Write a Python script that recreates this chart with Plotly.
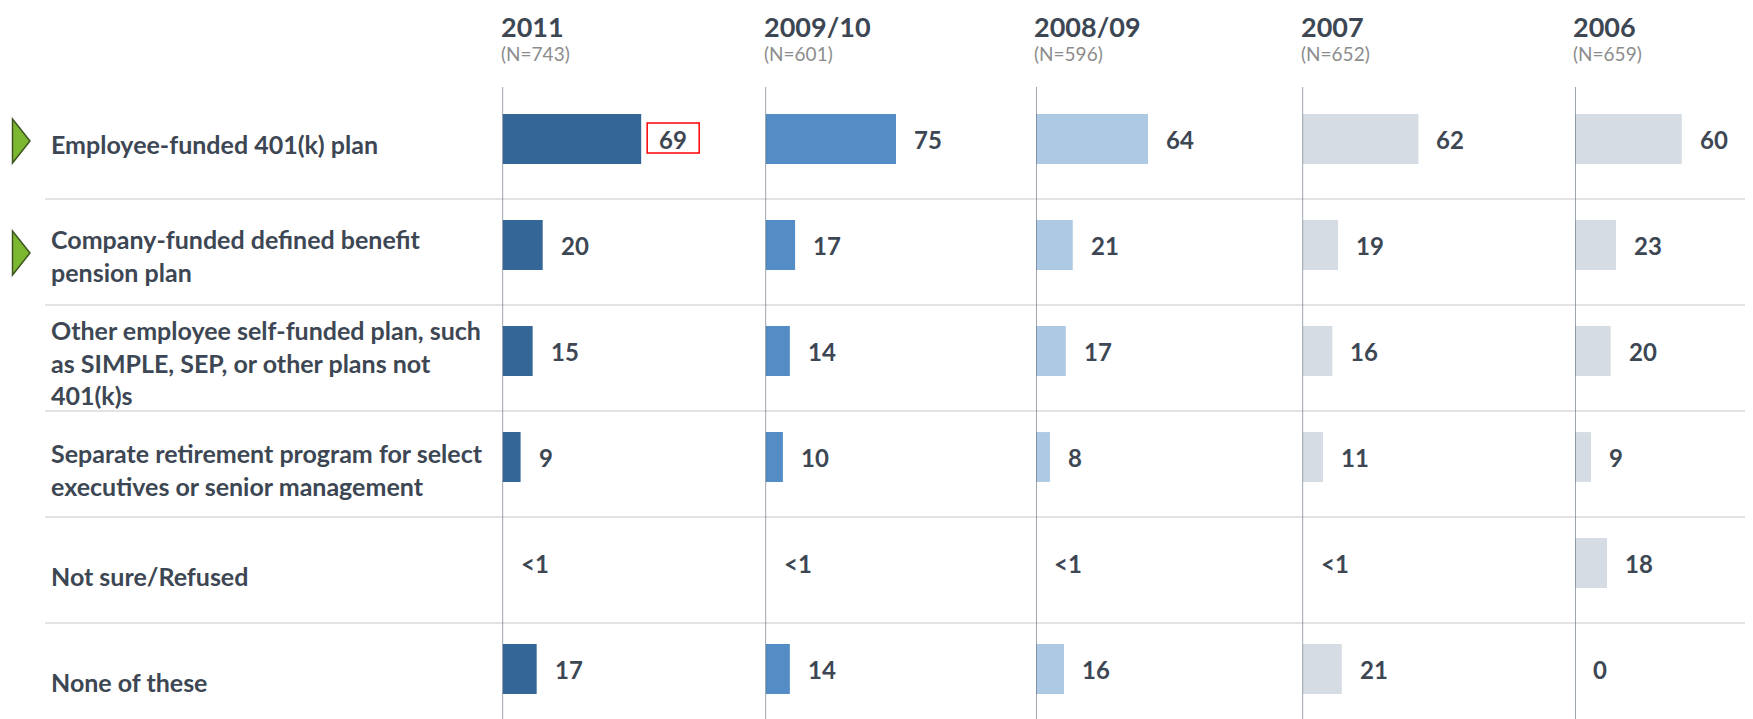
import plotly.graph_objects as go

# ---------------- data ----------------
categories = [
    "Employee-funded 401(k) plan",
    "Company-funded defined benefit<br>pension plan",
    "Other employee self-funded plan, such<br>as SIMPLE, SEP, or other plans not<br>401(k)s",
    "Separate retirement program for select<br>executives or senior management",
    "Not sure/Refused",
    "None of these",
]
periods = ["2011", "2009/10", "2008/09", "2007", "2006"]
sample_sizes = ["(N=743)", "(N=601)", "(N=596)", "(N=652)", "(N=659)"]

values_2011 = [69, 20, 15, 9, 0, 17]
values_2009_10 = [75, 17, 14, 10, 0, 14]
values_2008_09 = [64, 21, 17, 8, 0, 16]
values_2007 = [62, 19, 16, 11, 0, 21]
values_2006 = [60, 23, 20, 9, 18, 0]

labels_2011 = ["69", "20", "15", "9", "<1", "17"]
labels_2009_10 = ["75", "17", "14", "10", "<1", "14"]
labels_2008_09 = ["64", "21", "17", "8", "<1", "16"]
labels_2007 = ["62", "19", "16", "11", "<1", "21"]
labels_2006 = ["60", "23", "20", "9", "18", "0"]

highlighted_rows = [0, 1]          # rows marked with a green arrow
boxed_label = (0, 0)               # (panel, row) of the label with a red box

# ---------------- style ----------------
PAGE_W, PAGE_H = 1753, 719
OFF = 8                            # default page body margin
FW, FH = PAGE_W - OFF, PAGE_H - OFF


def px_x(x):
    return (x - OFF) / FW


def px_y(y):
    return 1 - (y - OFF) / FH


series_values = [values_2011, values_2009_10, values_2008_09, values_2007, values_2006]
series_labels = [labels_2011, labels_2009_10, labels_2008_09, labels_2007, labels_2006]
colors = ["#346697", "#548dc6", "#aec9e3", "#d6dce3", "#d6dce3"]
panel_left_px = [502.5, 765.5, 1036, 1302.5, 1575]
px_per_unit = [2.01, 1.74, 1.75, 1.87, 1.78]
TEXT = "#3d4754"
FONT = "Lato"

plot_top_px = 87
row0_px = 139
row_step = 106
y_top = (plot_top_px - row0_px) / row_step
y_bot = (PAGE_H - row0_px) / row_step

fig = go.Figure()
layout_axes = {}
for k in range(5):
    ax = "" if k == 0 else str(k + 1)
    x0 = panel_left_px[k]
    x1 = panel_left_px[k + 1] - 15 if k < 4 else PAGE_W
    rng = (x1 - x0) / px_per_unit[k]
    layout_axes["xaxis" + ax] = dict(domain=[px_x(x0), px_x(x1)], range=[0, rng],
                                     visible=False, fixedrange=True, anchor="y")
    fig.add_trace(go.Bar(
        x=series_values[k], y=list(range(len(categories))), orientation="h",
        width=0.47, marker=dict(color=colors[k], line=dict(width=0)),
        xaxis="x" + ax, yaxis="y", showlegend=False, hoverinfo="skip"))

shapes = []
annotations = []

# row separators
for i in range(len(categories) - 1):
    shapes.append(dict(type="line", xref="paper", yref="y", x0=px_x(45), x1=1,
                       y0=i + 60 / row_step, y1=i + 60 / row_step,
                       line=dict(color="#dadada", width=1.5), layer="below"))

for k in range(5):
    ax = "" if k == 0 else str(k + 1)
    # vertical axis line
    shapes.append(dict(type="line", xref="x" + ax, yref="paper", x0=0, x1=0,
                       y0=0, y1=px_y(plot_top_px),
                       line=dict(color="#5f6a76", width=1.2)))
    # headers
    annotations.append(dict(xref="paper", yref="paper", x=px_x(panel_left_px[k] - 4),
                            y=1, xanchor="left", yanchor="top",
                            text="<b>%s</b>" % periods[k], showarrow=False,
                            font=dict(family=FONT, size=27, color=TEXT)))
    annotations.append(dict(xref="paper", yref="paper", x=px_x(panel_left_px[k] - 4),
                            y=px_y(53), xanchor="left", yanchor="middle",
                            text=sample_sizes[k], showarrow=False,
                            font=dict(family=FONT, size=19, color="#8c8c8c")))
    # value labels
    for i, (v, lab) in enumerate(zip(series_values[k], series_labels[k])):
        annotations.append(dict(xref="x" + ax, yref="y", x=v, y=i, xanchor="left",
                                yanchor="middle", xshift=16, text="<b>%s</b>" % lab,
                                showarrow=False,
                                font=dict(family=FONT, size=24, color=TEXT)))

# red box around highlighted label
bk, bi = boxed_label
bax = "" if bk == 0 else str(bk + 1)
bv = series_values[bk][bi]
s = px_per_unit[bk]
shapes.append(dict(type="rect", xref="x" + bax, yref="y",
                   x0=bv + 6 / s, x1=bv + 58 / s,
                   y0=bi - 16 / row_step, y1=bi + 14 / row_step,
                   line=dict(color="#ff0000", width=1.5)))

# category labels
label_offsets = [5, 10, 11, 12, 13, 13]
for i, cat in enumerate(categories):
    annotations.append(dict(xref="paper", yref="y", x=px_x(49), y=i, xanchor="left",
                            yanchor="middle", align="left", yshift=-label_offsets[i],
                            text="<b>%s</b>" % cat, showarrow=False,
                            font=dict(family=FONT, size=25, color=TEXT)))

# green arrows
for i in highlighted_rows:
    cy = row0_px + row_step * i + (2 if i == 0 else 8)
    pts = [(12.5, cy - 22), (30, cy), (12.5, cy + 22)]
    path = "M " + " L ".join("%f,%f" % (px_x(x), px_y(y)) for x, y in pts) + " Z"
    shapes.append(dict(type="path", xref="paper", yref="paper", path=path,
                       fillcolor="#7cb82f", line=dict(color="#3e5523", width=1.5)))

fig.update_layout(
    width=FW, height=FH, margin=dict(l=0, r=0, t=0, b=0),
    paper_bgcolor="white", plot_bgcolor="white",
    barmode="overlay", showlegend=False,
    yaxis=dict(domain=[0, px_y(plot_top_px)], range=[y_bot, y_top],
               visible=False, fixedrange=True),
    shapes=shapes, annotations=annotations,
    **layout_axes,
)

fig.write_html("out.html")
